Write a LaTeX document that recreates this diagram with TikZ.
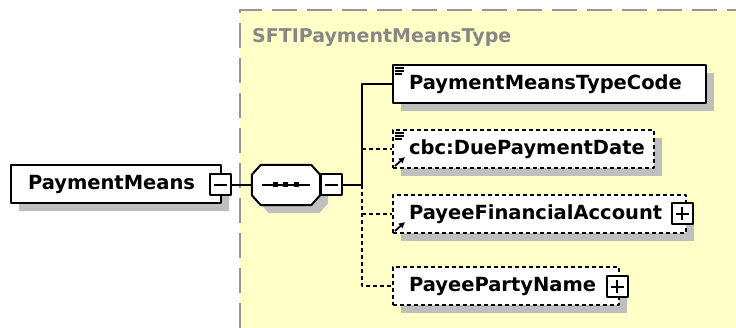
\documentclass[tikz,border=0pt]{standalone}
\usepackage{fontspec}
\setmainfont{DejaVu Sans}
\usetikzlibrary{shadows,arrows.meta}
\definecolor{schemabg}{RGB}{255,255,200}
\definecolor{schemaline}{RGB}{150,150,150}
\definecolor{typegray}{RGB}{135,135,135}
\begin{document}
\begin{tikzpicture}[x=1pt,y=-1pt,line join=round,font=\bfseries\fontsize{19.5}{22}\selectfont,
	shade/.style={general shadow={fill=black!25,shadow xshift=8pt,shadow yshift=-8pt}},
	elem/.style={draw,fill=white,line width=2pt,minimum height=38pt,inner xsep=16pt,inner ysep=0pt,anchor=west,align=left,shade},
	opt/.style={elem,dash pattern=on 4pt off 3pt},
	optline/.style={line width=2pt,dash pattern=on 4pt off 3pt},
	pmbox/.style={draw,fill=white,line width=2pt,minimum width=21pt,minimum height=21pt,inner sep=0pt},
	minus/.style={pmbox,path picture={\draw[line width=1.6pt] ([xshift=4pt]path picture bounding box.west) -- ([xshift=-4pt]path picture bounding box.east);}},
	plus/.style={pmbox,path picture={\draw[line width=1.6pt] ([xshift=4pt]path picture bounding box.west) -- ([xshift=-4pt]path picture bounding box.east) ([yshift=-4pt]path picture bounding box.north) -- ([yshift=4pt]path picture bounding box.south);}}]
	\useasboundingbox (0,0) rectangle (736,328);
	\fill[schemabg] (240,10) rectangle (736,328);
	\draw[schemaline,line width=2pt,dash pattern=on 25pt off 10pt] (240,328) -- (240,10) -- (736,10);
	\node[typegray,anchor=west,inner sep=0pt,font=\bfseries\fontsize{19}{22}\selectfont] (typename) at (252,38) {SFTIPaymentMeansType};
	\node[elem,text width=176pt,inner xsep=17pt] (pm) at (10,184) {PaymentMeans};
	\node[minus] (pmminus) at (220,185) {};
	\node[minimum width=68pt,minimum height=40pt,inner sep=0pt] (seq) at (286,185) {};
	\draw[fill=white,line width=2pt,shade] ([xshift=9pt]seq.north west) -- ([xshift=-9pt]seq.north east) -- ([yshift=-10pt]seq.north east) -- ([yshift=10pt]seq.south east) -- ([xshift=-9pt]seq.south east) -- ([xshift=9pt]seq.south west) -- ([yshift=10pt]seq.south west) -- ([yshift=-10pt]seq.north west) -- cycle;
	\node[minus] (seqminus) at (331,185) {};
	\coordinate (bus) at (362,185);
	\node[elem,text width=281pt] (e1) at (392,84) {PaymentMeansTypeCode};
	\node[opt,text width=229pt] (e2) at (392,149) {cbc:DuePaymentDate};
	\node[opt,text width=261pt] (e3) at (392,214) {PayeeFinancialAccount};
	\node[opt,text width=194pt] (e4) at (392,286) {PayeePartyName};
	\node[plus] (e3plus) at (682,214) {};
	\node[plus] (e4plus) at (617,287) {};
	\draw[line width=1.6pt] ([xshift=10pt]seq.west) -- ([xshift=-10pt]seq.east);
	\foreach \d in {-11,-1,10}
		\fill ([xshift=\d pt]seq.center) +(-2.5,-2.5) rectangle +(2.5,2.5);
	\foreach \n in {e1,e2}
		\draw[line width=1.3pt] (\n.north west) ++(3,4) -- ++(9,0) ++(-9,3) -- ++(9,0) ++(-9,3) -- ++(7,0);
	\foreach \n in {e2,e3}
		\draw[line width=1.8pt,-{Latex[length=6pt,width=7pt]}] (\n.south west) ++(3,-3) -- ++(10,-9);
	\draw[line width=2pt] (pmminus) -- (seq) (seqminus) -- (bus) |- (e1);
	\draw[optline] (bus |- e2.west) -- (e2.west) (bus |- e3.west) -- (e3.west) (bus) |- (e4.west);
\end{tikzpicture}
\end{document}
